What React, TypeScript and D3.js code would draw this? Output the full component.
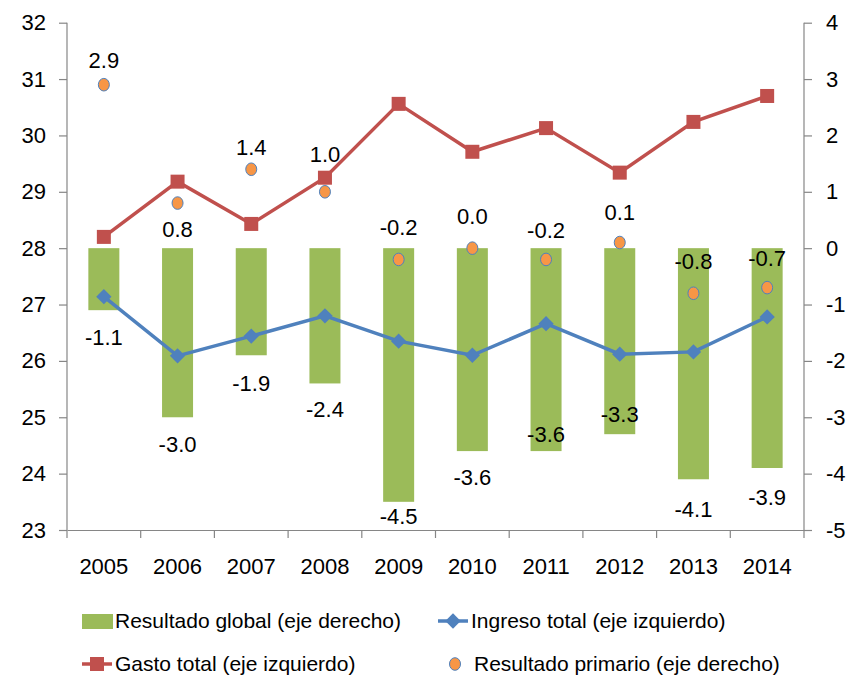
import { useEffect, useRef } from 'react';
import * as d3 from 'd3';

const years = ['2005', '2006', '2007', '2008', '2009', '2010', '2011', '2012', '2013', '2014'];
const resultadoGlobal = [-1.1, -3.0, -1.9, -2.4, -4.5, -3.6, -3.6, -3.3, -4.1, -3.9];
const resultadoPrimario = [2.9, 0.8, 1.4, 1.0, -0.2, 0.0, -0.2, 0.1, -0.8, -0.7];
const gastoTotal = [28.2, 29.18, 28.43, 29.25, 30.56, 29.71, 30.13, 29.34, 30.24, 30.7];
const ingresoTotal = [27.14, 26.09, 26.44, 26.8, 26.35, 26.1, 26.66, 26.12, 26.16, 26.78];
const leftTicks = [23, 24, 25, 26, 27, 28, 29, 30, 31, 32];
const rightTicks = [-5, -4, -3, -2, -1, 0, 1, 2, 3, 4];

// label nudges (px), as placed by hand in the original
const globalLabelDy = [27, 27, 28, 26, 14, 26, -17, -20, 30, 29];
const primarioLabelDy = [-24, 26, -22, -38, -32, -32, -29, -30, -32, -29];

const FONT = "'Liberation Sans', Arial, sans-serif";
const GREEN = '#9BBB59';
const BLUE = '#4F81BD';
const RED = '#C0504D';
const ORANGE = '#F79646';
const AXIS = '#868686';

const fmtInt = (d: d3.NumberValue) => String(d);
const fmt1 = (d: number) => d.toFixed(1);

const Chart = () => {
  const svgRef = useRef<SVGSVGElement>(null);

  useEffect(() => {
    document.body.style.margin = '0';
    document.body.style.overflow = 'hidden';
    const svg = d3.select(svgRef.current);
    svg.selectAll('*').remove();
    const left = 67;
    const right = 804;
    const top = 22.7;
    const bottom = 530;

    const x = d3.scaleBand().domain(years).range([left, right]);
    const yL = d3.scaleLinear().domain([23, 32]).range([bottom, top]);
    const yR = d3.scaleLinear().domain([-5, 4]).range([bottom, top]);
    const cx = (i: number) => (x(years[i]) as number) + x.bandwidth() / 2;
    const barW = 31;

    const g = svg.append('g').style('font-family', FONT);

    // bars
    g.selectAll('rect.bar')
      .data(resultadoGlobal)
      .enter()
      .append('rect')
      .attr('x', (_d, i) => cx(i) - barW / 2)
      .attr('y', yR(0))
      .attr('width', barW)
      .attr('height', (d) => yR(d) - yR(0))
      .attr('fill', GREEN);

    // axes
    const axisL = g.append('g').attr('transform', `translate(${left},0)`)
      .call(d3.axisLeft(yL).tickValues(leftTicks).tickSize(8).tickFormat(fmtInt));
    const axisR = g.append('g').attr('transform', `translate(${right},0)`)
      .call(d3.axisRight(yR).tickValues(rightTicks).tickSize(8).tickFormat(fmtInt));
    const axisB = g.append('g').attr('transform', `translate(0,${bottom})`)
      .call(d3.axisBottom(x).tickSize(0));
    [axisL, axisR, axisB].forEach((a) => {
      a.select('.domain').attr('stroke', AXIS).attr('stroke-width', 1.2);
      a.selectAll('.tick line').attr('stroke', AXIS).attr('stroke-width', 1.2);
      a.selectAll('text').attr('font-size', 22).attr('fill', '#000').style('font-family', FONT);
    });
    axisL.select('.domain').attr('d', `M0,${top}V${bottom}`);
    axisR.select('.domain').attr('d', `M0,${top}V${bottom}`);
    axisL.selectAll('text').attr('x', -21);
    axisR.selectAll('text').attr('x', 22).attr('text-anchor', 'start');
    axisB.selectAll('text').attr('y', 28);
    // category boundary ticks
    axisB.selectAll('line.bnd')
      .data(d3.range(years.length + 1))
      .enter()
      .append('line')
      .attr('x1', (i) => left + i * x.step())
      .attr('x2', (i) => left + i * x.step())
      .attr('y1', 0)
      .attr('y2', 8)
      .attr('stroke', AXIS)
      .attr('stroke-width', 1.2);

    // gasto total
    const lineL = d3.line<number>().x((_d, i) => cx(i)).y((d) => yL(d));
    g.append('path').datum(gastoTotal).attr('d', lineL).attr('fill', 'none')
      .attr('stroke', RED).attr('stroke-width', 3.5);
    g.selectAll('rect.sq').data(gastoTotal).enter().append('rect')
      .attr('x', (_d, i) => cx(i) - 7).attr('y', (d) => yL(d) - 7)
      .attr('width', 14).attr('height', 14).attr('fill', RED);

    // ingreso total
    g.append('path').datum(ingresoTotal).attr('d', lineL).attr('fill', 'none')
      .attr('stroke', BLUE).attr('stroke-width', 3.5);
    const diamond = d3.symbol().type(d3.symbolDiamond2).size(150);
    g.selectAll('path.dm').data(ingresoTotal).enter().append('path')
      .attr('d', diamond).attr('transform', (d, i) => `translate(${cx(i)},${yL(d)})`)
      .attr('fill', BLUE);

    // resultado primario
    g.selectAll('ellipse.pt').data(resultadoPrimario).enter().append('ellipse')
      .attr('cx', (_d, i) => cx(i)).attr('cy', (d) => yR(d))
      .attr('rx', 5.5).attr('ry', 6.3)
      .attr('fill', ORANGE).attr('stroke', BLUE).attr('stroke-width', 1);

    // labels
    g.selectAll('text.gl').data(resultadoGlobal).enter().append('text')
      .attr('x', (_d, i) => cx(i)).attr('y', (d, i) => yR(d) + globalLabelDy[i])
      .attr('dy', '0.35em').attr('text-anchor', 'middle').attr('font-size', 22)
      .text(fmt1);
    g.selectAll('text.pl').data(resultadoPrimario).enter().append('text')
      .attr('x', (_d, i) => cx(i)).attr('y', (d, i) => yR(d) + primarioLabelDy[i])
      .attr('dy', '0.35em').attr('text-anchor', 'middle').attr('font-size', 22)
      .text(fmt1);

    // legend
    const leg = g.append('g').attr('font-size', 21);
    const row1 = 621;
    const row2 = 664;
    leg.append('rect').attr('x', 82).attr('y', row1 - 7).attr('width', 31).attr('height', 15).attr('fill', GREEN);
    leg.append('text').attr('x', 115).attr('y', row1).attr('dy', '0.35em').text('Resultado global (eje derecho)');
    leg.append('line').attr('x1', 438).attr('x2', 468).attr('y1', row1).attr('y2', row1)
      .attr('stroke', BLUE).attr('stroke-width', 3.5);
    leg.append('path').attr('d', diamond).attr('transform', `translate(453,${row1})`).attr('fill', BLUE);
    leg.append('text').attr('x', 471).attr('y', row1).attr('dy', '0.35em').text('Ingreso total (eje izquierdo)');
    leg.append('line').attr('x1', 82).attr('x2', 112).attr('y1', row2).attr('y2', row2)
      .attr('stroke', RED).attr('stroke-width', 3.5);
    leg.append('rect').attr('x', 90).attr('y', row2 - 7).attr('width', 14).attr('height', 14).attr('fill', RED);
    leg.append('text').attr('x', 115).attr('y', row2).attr('dy', '0.35em').text('Gasto total (eje izquierdo)');
    leg.append('ellipse').attr('cx', 455).attr('cy', row2).attr('rx', 5.5).attr('ry', 6.3)
      .attr('fill', ORANGE).attr('stroke', BLUE).attr('stroke-width', 1);
    leg.append('text').attr('x', 474).attr('y', row2).attr('dy', '0.35em').text('Resultado primario (eje derecho)');
  }, []);

  return <svg ref={svgRef} width={848} height={681} style={{ display: 'block' }}></svg>;
};

export default function App() {
  return <Chart />;
}
